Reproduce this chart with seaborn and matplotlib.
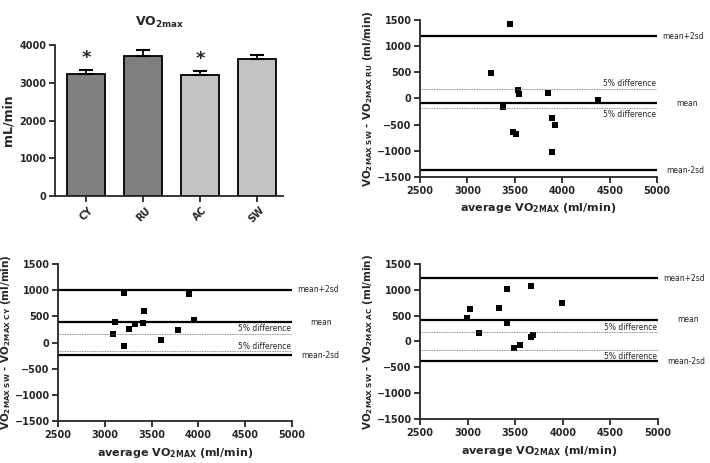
import numpy as np
import matplotlib.pyplot as plt
import matplotlib.transforms as mtransforms
import seaborn as sns

# bar panel: mean VO2max per exercise mode (mL/min) with SEM
modes = ["CY", "RU", "AC", "SW"]
vo2max = [3230, 3710, 3200, 3620]
vo2max_err = [100, 160, 110, 110]
bar_colors = ["#7f7f7f", "#7f7f7f", "#c4c4c4", "#c4c4c4"]
signif = ["*", "", "*", ""]

# Bland-Altman: SW vs RU
ru_avg = [3446, 3252, 3537, 3544, 3853, 4374, 3372, 3896, 3921, 3478, 3509, 3892]
ru_diff = [1433, 478, 159, 76, 96, -32, -160, -371, -504, -638, -688, -1020]
ru_mean, ru_upper, ru_lower, ru_pct = -95, 1190, -1380, 180

# SW vs CY
cy_avg = [3202, 3896, 3416, 3106, 3953, 3319, 3405, 3259, 3084, 3782, 3597, 3205]
cy_diff = [940, 927, 608, 386, 424, 348, 367, 264, 162, 245, 48, -73]
cy_mean, cy_upper, cy_lower, cy_pct = 385, 1013, -244, 170

# SW vs AC
ac_avg = [3663, 3417, 3997, 3029, 3334, 2990, 3417, 3123, 3691, 3666, 3547, 3484]
ac_diff = [1077, 1006, 743, 619, 646, 445, 356, 162, 124, 77, -64, -122]
ac_mean, ac_upper, ac_lower, ac_pct = 422, 1219, -379, 174

sns.set_theme(style="ticks")
plt.rcParams["font.family"] = ["DejaVu Sans"]
plt.rcParams["mathtext.default"] = "bf"
plt.rcParams["axes.linewidth"] = 1.3
plt.rcParams["xtick.major.width"] = 1.3
plt.rcParams["ytick.major.width"] = 1.3
plt.rcParams["xtick.major.size"] = 4
plt.rcParams["ytick.major.size"] = 4
plt.rcParams["xtick.major.pad"] = 2.5
plt.rcParams["ytick.major.pad"] = 2

fig = plt.figure(figsize=(7.1, 4.63), dpi=100)

# ---- bar chart ----
ax = fig.add_axes([0.0775, 0.5767, 0.321, 0.326])
sns.barplot(x=modes, y=vo2max, hue=modes, palette=bar_colors, legend=False,
            width=0.667, edgecolor="black", linewidth=1.3, errorbar=None, ax=ax)
ax.errorbar(x=np.arange(len(modes)), y=vo2max, yerr=[np.zeros(len(modes)), vo2max_err],
            fmt="none", ecolor="black", elinewidth=1.3, capsize=5, capthick=1.5)
for i, s in enumerate(signif):
    if s:
        ax.text(i, vo2max[i] + vo2max_err[i] + 80, s, ha="center", va="bottom",
                fontsize=13, fontweight="bold")
ax.set_ylim(0, 4000)
ax.set_xlim(-0.55, 3.46)
ax.set_yticks([0, 1000, 2000, 3000, 4000])
ax.set_ylabel("mL/min", fontsize=9, fontweight="bold")
ax.set_xlabel("")
ax.tick_params(axis="y", labelsize=7)
ax.tick_params(axis="x", labelsize=7, rotation=45)
for lab in ax.get_xticklabels() + ax.get_yticklabels():
    lab.set_fontweight("bold")
ax.set_title(r"VO$_{2max}$", fontsize=9, fontweight="bold", x=0.46, pad=14)
sns.despine(ax=ax)


def bland_altman(rect, avg, diff, mean, upper, lower, pct, comp, txt_pos):
    ax = fig.add_axes(rect)
    sns.scatterplot(x=avg, y=diff, marker="s", s=24, color="black",
                    edgecolor="black", linewidth=0, ax=ax)
    for yv in (upper, mean, lower):
        ax.axhline(yv, color="black", lw=1.6)
    for yv in (pct, -pct):
        ax.axhline(yv, color="#666666", lw=0.6, ls=(0, (1, 1)))
    ax.set_xlim(2500, 5000)
    ax.set_ylim(-1500, 1500)
    ax.set_xticks(range(2500, 5001, 500))
    ax.set_yticks(range(-1500, 1501, 500))
    ax.tick_params(labelsize=7)
    for lab in ax.get_xticklabels() + ax.get_yticklabels():
        lab.set_fontweight("bold")
    ax.set_xlabel(r"average VO$_{2MAX}$ (ml/min)", fontsize=8, fontweight="bold",
                  labelpad=4)
    ax.set_ylabel(r"VO$_{2MAX\ SW}$ - VO$_{2MAX\ %s}$ (ml/min)" % comp,
                  fontsize=7.5, fontweight="bold", labelpad=1)
    trans = mtransforms.blended_transform_factory(ax.transAxes, ax.transData)
    ax.text(1.11, upper, "mean+2sd", transform=trans, ha="center", va="center",
            fontsize=5.5, clip_on=False)
    ax.text(1.125, mean, "mean", transform=trans, ha="center", va="center",
            fontsize=5.5, clip_on=False)
    ax.text(1.12, lower, "mean-2sd", transform=trans, ha="center", va="center",
            fontsize=5.5, clip_on=False)
    for yv, va in txt_pos:
        ax.text(0.995, yv, "5% difference", transform=trans, ha="right", va=va,
                fontsize=5.5)
    sns.despine(ax=ax)
    return ax


bland_altman([0.5915, 0.6184, 0.334, 0.338], ru_avg, ru_diff, ru_mean, ru_upper,
             ru_lower, ru_pct, "RU", [(ru_pct + 20, "bottom"), (-ru_pct - 40, "top")])
bland_altman([0.0817, 0.0907, 0.3296, 0.339], cy_avg, cy_diff, cy_mean, cy_upper,
             cy_lower, cy_pct, "CY", [(cy_pct + 10, "bottom"), (-cy_pct + 10, "bottom")])
bland_altman([0.5915, 0.095, 0.3352, 0.335], ac_avg, ac_diff, ac_mean, ac_upper,
             ac_lower, ac_pct, "AC", [(ac_pct + 10, "bottom"), (-ac_pct - 30, "top")])

fig.savefig("out.png", dpi=100)
